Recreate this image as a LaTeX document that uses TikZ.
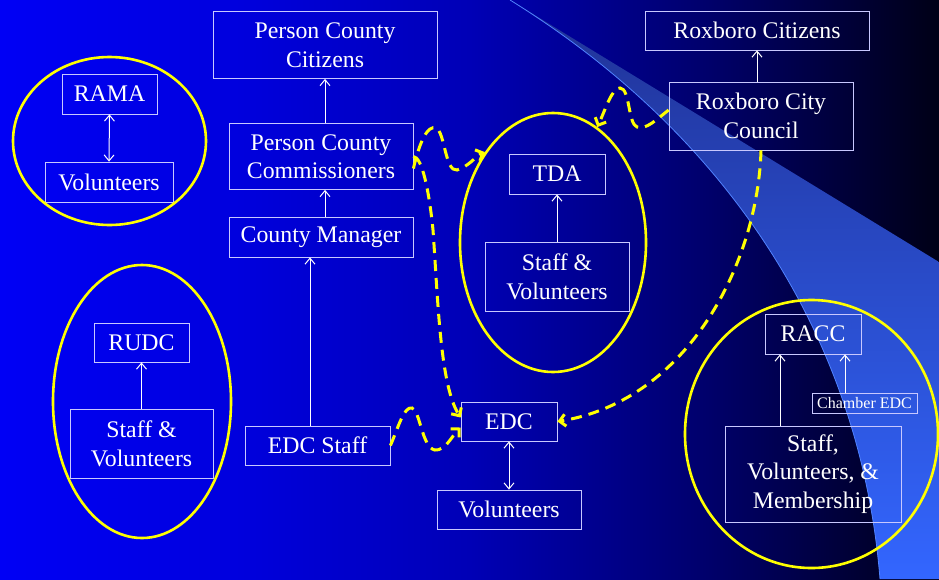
\documentclass[tikz,border=0pt]{standalone}
\usepackage{fontspec}
\setmainfont{Liberation Serif}
\usetikzlibrary{shapes.geometric,calc,arrows.meta}

\definecolor{bgA}{RGB}{0,0,245}
\definecolor{bgB}{RGB}{0,0,222}
\definecolor{bgC}{RGB}{0,0,182}
\definecolor{bgD}{RGB}{0,0,108}
\definecolor{bgE}{RGB}{0,0,22}
\definecolor{swooshtop}{RGB}{32,50,150}
\definecolor{swooshmid}{RGB}{46,86,220}
\definecolor{swoosh}{RGB}{51,102,255}
\definecolor{swooshedge}{RGB}{80,130,255}
\definecolor{boxline}{RGB}{200,200,255}
\definecolor{ringyellow}{RGB}{255,255,0}

\pgfdeclarehorizontalshading{slidebg}{100bp}{color(0bp)=(bgA); color(25bp)=(bgA); color(37.5bp)=(bgB); color(50bp)=(bgC); color(62.5bp)=(bgD); color(75bp)=(bgE); color(100bp)=(bgE)}

\newcommand\bigfont{\fontsize{23.8}{28.5}\selectfont}
\newcommand\smallfont{\fontsize{16}{18}\selectfont}

\tikzset{
  unit/.style={draw=boxline, line width=0.8pt, text=white, align=center, inner sep=0pt, font=\bigfont},
  ring/.style={ellipse, draw=ringyellow, line width=2.6pt, inner sep=0pt},
  link/.style={draw=white, line width=1pt},
  tie/.style={draw=ringyellow, line width=3pt, dash pattern=on 11pt off 7pt, -{Straight Barb[length=6pt,width=12pt]}}
}

\begin{document}
\begin{tikzpicture}[x=1pt,y=-1pt,>={Straight Barb[length=6pt,width=10pt]}]
	\useasboundingbox (0,0) rectangle (939,579);
	% background and swoosh
	\shade[shading=slidebg] (0,0) rectangle (939,579);
	\shade[top color=swooshtop, middle color=swooshmid, bottom color=swoosh]
		(510,0) -- (939,262) -- (939,579) -- (880,579) .. controls (860,330) and (720,130) .. (510,0) -- cycle;
	\draw[swooshedge, line width=0.8pt] (510,0) .. controls (720,130) and (860,330) .. (880,579);

	% county side
	\node[unit, minimum width=224, minimum height=67] (pccitizens) at (325,45) {Person County\\Citizens};
	\node[unit, minimum width=184, minimum height=66] (commish) at (321,156.5) {Person County\\Commissioners};
	\node[unit, minimum width=184, minimum height=40] (manager) at (321,237) {County Manager};
	\node[unit, minimum width=145, minimum height=39] (edcstaff) at (317.5,445.5) {EDC Staff};

	% RAMA and RUDC
	\node[unit, minimum width=95, minimum height=40] (rama) at (109.5,94) {RAMA};
	\node[unit, minimum width=128, minimum height=40] (ramavol) at (109,182) {Volunteers};
	\node[ring, minimum width=193, minimum height=168] (ramaring) at (109.5,141) {};
	\node[unit, minimum width=95, minimum height=39] (rudc) at (141.5,342.5) {RUDC};
	\node[unit, minimum width=143, minimum height=69] (rudcstaff) at (141.5,444) {Staff \&\\Volunteers};
	\node[ring, minimum width=178, minimum height=273] (rudcring) at (142,401.5) {};

	% TDA and EDC
	\node[unit, minimum width=96, minimum height=40] (tda) at (557,174) {TDA};
	\node[unit, minimum width=144, minimum height=69] (tdastaff) at (557,277) {Staff \&\\Volunteers};
	\node[ring, minimum width=186, minimum height=259] (tdaring) at (553,242.5) {};
	\node[unit, minimum width=96, minimum height=39] (edc) at (509,421.5) {EDC};
	\node[unit, minimum width=144, minimum height=39] (edcvol) at (509,509.5) {Volunteers};

	% city side
	\node[unit, minimum width=224, minimum height=39] (roxcitizens) at (757,30.5) {Roxboro Citizens};
	\node[unit, minimum width=184, minimum height=68] (council) at (761,116) {Roxboro City\\Council};
	\node[unit, minimum width=96, minimum height=40] (racc) at (813,334) {RACC};
	\node[unit, font=\smallfont, minimum width=105, minimum height=20] (chamber) at (864.5,403.5) {Chamber EDC};
	\node[unit, minimum width=176, minimum height=96] (members) at (813,474) {Staff,\\Volunteers, \&\\Membership};
	\node[ring, minimum width=253, minimum height=268] (raccring) at (811.5,434) {};

	% reporting lines
	\draw[link,->] (pccitizens.south |- commish.north) -- (pccitizens.south);
	\draw[link,->] (pccitizens.south |- manager.north) -- (pccitizens.south |- commish.south);
	\draw[link,->] ([xshift=-7.5pt]edcstaff.north) -- ([xshift=-7.5pt]edcstaff.north |- manager.south);
	\draw[link,<->] (rama.south) -- (ramavol.north);
	\draw[link,->] (rudcstaff.north) -- (rudc.south);
	\draw[link,->] (tdastaff.north) -- (tda.south);
	\draw[link,->] (roxcitizens.south |- council.north) -- (roxcitizens.south);
	\draw[link,<->] (edc.south) -- (edcvol.north);
	\draw[link,->] ([xshift=-33pt]members.north) -- ([xshift=-33pt]racc.south);
	\draw[link,->] ([xshift=-19.5pt]chamber.north) -- ([xshift=-19.5pt]chamber.north |- racc.south);

	% funding ties
	\draw[tie] ($(commish.east)+(0,12)$) .. controls (420,140) and (428,125) .. (436,128)
		.. controls (445,132) and (445,172) .. (457,170) .. controls (468,167) and (476,156) .. (tdaring.127);
	\draw[tie] (commish.east) .. controls (422,157) and (429,190) .. (433,230)
		.. controls (438,300) and (440,385) .. ($(edc.west)+(0,-4)$);
	\draw[tie] (edcstaff.east) .. controls (398,428) and (404,406) .. (412,408)
		.. controls (420,410) and (422,448) .. (435,450) .. controls (445,451) and (452,436) .. ($(edc.west)+(0,6)$);
	\draw[tie] ($(council.west)+(0,-6)$) .. controls (656,120) and (646,130) .. (637,127)
		.. controls (628,124) and (630,88) .. (620,88) .. controls (612,88) and (606,108) .. (tdaring.69);
	\draw[tie] (council.south) .. controls (758,260) and (690,400) .. (edc.east);
\end{tikzpicture}
\end{document}
